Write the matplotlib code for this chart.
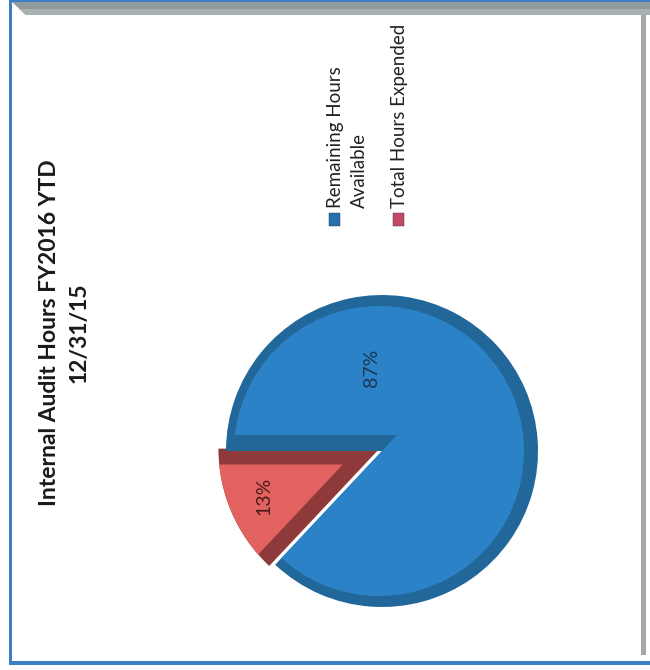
import matplotlib
matplotlib.use('Agg')
import matplotlib.pyplot as plt
import matplotlib.patches as mpatches
import numpy as np

# data
labels = ['Remaining Hours\nAvailable', 'Total Hours Expended']
values = [87, 13]
title = 'Internal Audit Hours FY2016 YTD\n12/31/15'

face_colors = ['#2c82c6', '#e2625f']
dark_colors = ['#22679a', '#8e3a3a']
pct_colors = ['#1c3654', '#4a1c1c']
marker_colors = ['#2670b0', '#c24a68']

plt.rcParams['font.family'] = ['Lato', 'DejaVu Sans']

W, H = 650, 670
fig = plt.figure(figsize=(W / 100, H / 100), dpi=100)
ax = fig.add_axes([0, 0, 1, 1])


def py(y):
    # pixel row (from top) -> data y
    return H - y


def unit(deg):
    r = np.deg2rad(deg)
    return np.array([np.cos(r), np.sin(r)])


def clipped(wedge, circle):
    # pie wedges come with clip_on=False
    wedge.set_clip_on(True)
    wedge.set_clip_path(circle)


# ---- pie (rotated 90 deg, 3D-ish bevel) ----
C = np.array([382.0, py(451)])
R = 156.0
total = sum(values)
red_span = 360 * values[1] / total
start = 180 + red_span

# red slice nudged off the blue one (white gap along its lower edge only)
Cr = C + 3.5 * unit(start - 90)
Rr = R + 5
wr0, _ = ax.pie(values, colors=['none', dark_colors[1]], startangle=start,
                center=tuple(Cr), radius=Rr, wedgeprops=dict(linewidth=0))
wr0[0].set_visible(False)
wr, _ = ax.pie(values, colors=['none', face_colors[1]], startangle=start,
               center=tuple(Cr), radius=Rr, explode=[0, 40],
               wedgeprops=dict(linewidth=0))
wr[0].set_visible(False)
clipped(wr[1], mpatches.Circle(tuple(Cr), Rr, transform=ax.transData))

# blue slice: dark base (rim + side), then lighter face
wb0, _ = ax.pie(values, colors=[dark_colors[0], 'none'], startangle=start,
                center=tuple(C), radius=R, wedgeprops=dict(linewidth=0))
wb0[1].set_visible(False)
cb = C + 22 * unit(start - 180)
wb, _ = ax.pie(values, colors=[face_colors[0], 'none'], startangle=start,
               center=tuple(cb), radius=1.4 * R, wedgeprops=dict(linewidth=0))
wb[1].set_visible(False)
clipped(wb[0], mpatches.Circle((C[0] - 3, C[1]), R - 11, transform=ax.transData))

# percentage labels
ax.text(371, py(368), f'{values[0]}%', rotation=90, ha='center', va='center',
        fontsize=14, color=pct_colors[0])
ax.text(264, py(496), f'{values[1]}%', rotation=90, ha='center', va='center',
        fontsize=14, color=pct_colors[1])

# title
ax.text(64, py(333), title, rotation=90, ha='center', va='center',
        multialignment='center', fontsize=16.5, fontweight='bold',
        linespacing=1.5, color='#1a1a1a')

# legend (rotated)
legend_x = [329, 393]
for lab, col, x0 in zip(labels, marker_colors, legend_x):
    ax.add_patch(mpatches.Rectangle((x0, py(226)), 11, 13, facecolor=col,
                                    edgecolor='#333333', linewidth=0.3))
    ax.text(x0 - 2, py(208), lab, rotation=90, rotation_mode='anchor',
            ha='left', va='top', fontsize=13.5, color='#222222',
            linespacing=1.5)

# ---- frame ----
ax.add_patch(mpatches.Rectangle((9, py(665)), 3, 665, color='#3c7fc6', lw=0))
ax.add_patch(mpatches.Rectangle((9, py(665)), 641, 4, color='#3c7fc6', lw=0))
ax.add_patch(mpatches.Rectangle((9, py(2)), 641, 2, color='#3c7fc6', lw=0))
ax.add_patch(mpatches.Polygon([(12, py(2)), (W, py(2)), (W, py(15)), (26, py(15))],
                              closed=True, color='#8f9b9c', lw=0))
ax.add_patch(mpatches.Polygon([(19, py(9)), (W, py(9)), (W, py(15)), (26, py(15))],
                              closed=True, color='#a9b1b1', lw=0))
ax.add_patch(mpatches.Rectangle((641, py(655)), 5, 640, color='#a3a8a8', lw=0))

ax.set_xlim(0, W)
ax.set_ylim(0, H)
ax.set_aspect('equal')
ax.axis('off')

fig.savefig('out.png', dpi=100)
